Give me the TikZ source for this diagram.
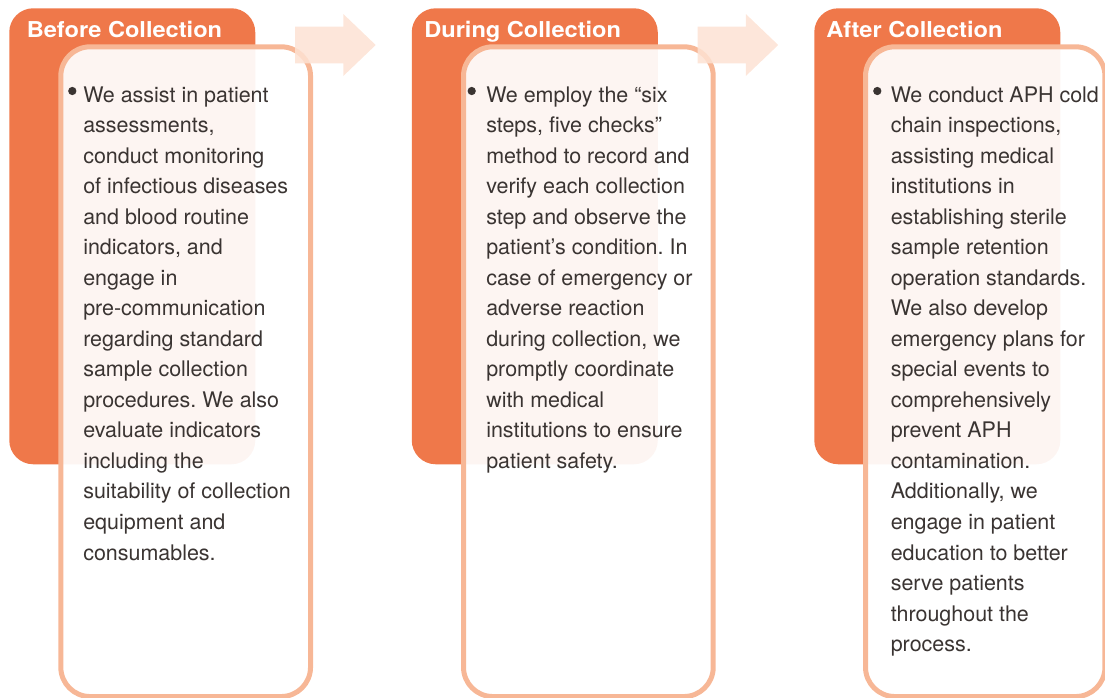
\documentclass[tikz,border=0pt]{standalone}
\usepackage{fontspec}
\usepackage{graphicx}
\setmainfont{TeX Gyre Heros}
\definecolor{stageorange}{RGB}{239,120,74}
\definecolor{panelline}{RGB}{247,183,150}
\definecolor{arrowpeach}{RGB}{253,226,211}
\definecolor{bodyink}{RGB}{58,52,50}
\tikzset{
  stagebox/.style={draw=none, fill=stageorange, rounded corners=18pt, inner sep=0pt,
    anchor=north west, minimum width=184.5pt, minimum height=342pt},
  panelbox/.style={draw=panelline, line width=3.75pt, fill=white, fill opacity=0.93,
    rounded corners=22pt, inner sep=0pt, anchor=north west, minimum height=487.3pt},
  stagetitle/.style={text=white, font=\bfseries\fontsize{16.4pt}{18pt}\selectfont,
    inner sep=0pt, anchor=base west},
  bodytext/.style={text=bodyink, inner sep=0pt, anchor=base west},
  bulletdot/.style={circle, fill=bodyink, draw=none, inner sep=0pt, outer sep=0pt,
    minimum size=6.2pt},
  flowarrow/.style={fill=arrowpeach, fill opacity=0.85}
}
\newcommand{\bodylines}[1]{\parbox[t]{240pt}{\frenchspacing\fontsize{16.1pt}{22.9pt}\selectfont\raggedright #1}}
\begin{document}
\begin{tikzpicture}[x=0.75pt,y=-0.75pt]
\useasboundingbox (0,0) rectangle (1105,697);

% orange header blocks
\node[stagebox] (stageA) at (9,8) {};
\node[stagebox] (stageB) at (411.5,8) {};
\node[stagebox] (stageC) at (814,8) {};

% stage titles
\node[stagetitle] (titleA) at (26.5,37.3) {\scalebox{1.08}[1]{Before Collection}};
\node[stagetitle] (titleB) at (424,37.3) {\scalebox{1.08}[1]{During Collection}};
\node[stagetitle] (titleC) at (826,37.3) {\scalebox{1.08}[1]{After Collection}};

% outlined content panels
\node[panelbox, minimum width=187.3pt] (panelA) at (58.3,44.3) {};
\node[panelbox, minimum width=187.3pt] (panelB) at (461,44.3) {};
\node[panelbox, minimum width=179.6pt] (panelC) at (863,44.3) {};

% block arrows between the stages
\path[flowarrow] (295,26.7) -- (343.3,26.7) -- (343.3,14) -- (375.7,45)
  -- (343.3,76) -- (343.3,63.3) -- (295,63.3) -- cycle;
\path[flowarrow] (697.5,26.7) -- (745.8,26.7) -- (745.8,14) -- (778.2,45)
  -- (745.8,76) -- (745.8,63.3) -- (697.5,63.3) -- cycle;

% bullets
\node[bulletdot] (dotA) at (72.3,91) {};
\node[bulletdot] (dotB) at (471.7,91) {};
\node[bulletdot] (dotC) at (877.3,91) {};

% body text
\node[bodytext] (textA) at (83,102) {\bodylines{%
We assist in patient\\
assessments,\\
conduct monitoring\\
of infectious diseases\\
and blood routine\\
indicators, and\\
engage in\\
pre-communication\\
regarding standard\\
sample collection\\
procedures. We also\\
evaluate indicators\\
including the\\
suitability of collection\\
equipment and\\
consumables.}};

\node[bodytext] (textB) at (486,102) {\bodylines{%
We employ the “six\\
steps, five checks”\\
method to record and\\
verify each collection\\
step and observe the\\
patient’s condition. In\\
case of emergency or\\
adverse reaction\\
during collection, we\\
promptly coordinate\\
with medical\\
institutions to ensure\\
patient safety.}};

\node[bodytext] (textC) at (890.5,102) {\bodylines{%
We conduct APH cold\\
chain inspections,\\
assisting medical\\
institutions in\\
establishing sterile\\
sample retention\\
operation standards.\\
We also develop\\
emergency plans for\\
special events to\\
comprehensively\\
prevent APH\\
contamination.\\
Additionally, we\\
engage in patient\\
education to better\\
serve patients\\
throughout the\\
process.}};
\end{tikzpicture}
\end{document}
